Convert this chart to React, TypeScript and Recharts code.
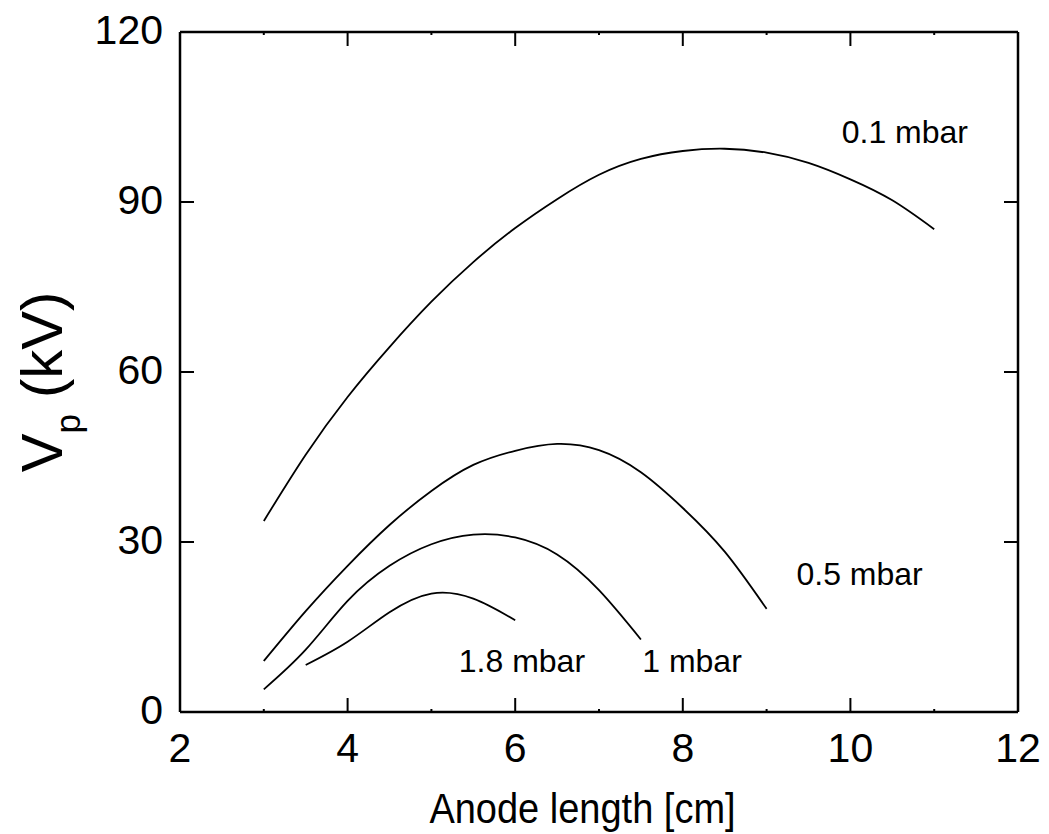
import React from 'react';
import {
    LineChart,
    Line,
    XAxis,
    YAxis,
    ReferenceDot,
    Customized
} from 'recharts';

// anode length [cm] and peak voltage [kV] per filling pressure
const x01 = [3, 3.5, 4, 4.5, 5, 5.5, 6, 6.5, 7, 7.5, 8, 8.5, 9, 9.5, 10, 10.5, 11];
const v01 = [33.7, 45.4, 55.6, 64.4, 72.4, 79.4, 85.4, 90.5, 94.8, 97.6, 99.0, 99.4, 98.7, 96.9, 94.0, 90.3, 85.2];

const x05 = [3, 3.5, 4, 4.5, 5, 5.5, 6, 6.5, 7, 7.5, 8, 8.5, 9];
const v05 = [9.0, 17.8, 25.8, 33.0, 39.0, 43.6, 46.1, 47.3, 46.2, 42.3, 36.0, 28.3, 18.2];

const x1 = [3, 3.5, 4, 4.5, 5, 5.5, 6, 6.5, 7, 7.5];
const v1 = [4.0, 11.0, 19.6, 25.8, 29.6, 31.3, 30.8, 27.8, 21.5, 12.8];

const x18 = [3.5, 4, 4.5, 5, 5.5, 6];
const v18 = [8.3, 12.4, 17.6, 20.9, 20.0, 16.2];

const xTicks = [2, 3, 4, 5, 6, 7, 8, 9, 10, 11, 12];
const yTicks = [0, 30, 60, 90, 120];

const curveLabels = [
    { text: '0.1 mbar', x: 10.65, y: 102.4 },
    { text: '0.5 mbar', x: 10.11, y: 24.35 },
    { text: '1.8 mbar', x: 6.08, y: 9.1 },
    { text: '1 mbar', x: 8.11, y: 9.1 }
];

const toPoints = (xs: number[], ys: number[]) => xs.map((x, i) => ({ x, y: ys[i] }));

const series = [
    { name: '0.1 mbar', data: toPoints(x01, v01) },
    { name: '0.5 mbar', data: toPoints(x05, v05) },
    { name: '1 mbar', data: toPoints(x1, v1) },
    { name: '1.8 mbar', data: toPoints(x18, v18) }
];

const FONT = '"Liberation Sans", Arial, Helvetica, sans-serif';

// ticks point inward, labels only on even values
const BottomTick = (props: any) => {
    const { x, y, payload } = props;
    const major = payload.value % 2 === 0;
    return (
        <g>
            <line x1={x} x2={x} y1={y} y2={y - (major ? 14 : 3)} stroke="#000" strokeWidth={2} />
            {major && (
                <text x={x} y={y + 50} textAnchor="middle" fontSize={41} fill="#000" fontFamily={FONT}>
                    {payload.value}
                </text>
            )}
        </g>
    );
};

const TopTick = (props: any) => {
    const { x, y, payload } = props;
    const major = payload.value % 2 === 0;
    return <line x1={x} x2={x} y1={y} y2={y + (major ? 14 : 3)} stroke="#000" strokeWidth={2} />;
};

const LeftTick = (props: any) => {
    const { x, y, payload } = props;
    return (
        <g>
            <line x1={x} x2={x + 14} y1={y} y2={y} stroke="#000" strokeWidth={2} />
            <text x={x - 17} y={y + 12} textAnchor="end" fontSize={41} fill="#000" fontFamily={FONT}>
                {payload.value}
            </text>
        </g>
    );
};

const RightTick = (props: any) => {
    const { x, y } = props;
    return <line x1={x} x2={x - 14} y1={y} y2={y} stroke="#000" strokeWidth={2} />;
};

const AxisTitles = () => (
    <g fontFamily={FONT} fill="#000">
        <text transform="translate(582.5, 823) scale(1, 1.14)" textAnchor="middle" fontSize={38}>
            Anode length [cm]
        </text>
        <text transform="translate(62, 382) rotate(-90)" textAnchor="middle" fontSize={58}>
            V
            <tspan fontSize={35} dy={18}>p</tspan>
            <tspan dy={-18}> (kV)</tspan>
        </text>
    </g>
);

const App: React.FC = () => {
    return (
        <div style={{ position: 'absolute', left: 0, top: 0, background: '#fff', fontFamily: FONT }}>
            <LineChart
                width={1049}
                height={834}
                margin={{ top: 31, right: 30, bottom: 62, left: 100 }}
            >
                <XAxis
                    type="number"
                    dataKey="x"
                    domain={[2, 12]}
                    ticks={xTicks}
                    interval={0}
                    allowDataOverflow
                    height={60}
                    tickSize={0}
                    tickMargin={0}
                    tickLine={false}
                    axisLine={{ stroke: '#000', strokeWidth: 2.5 }}
                    tick={<BottomTick />}
                />
                <XAxis
                    xAxisId="top"
                    orientation="top"
                    type="number"
                    dataKey="x"
                    domain={[2, 12]}
                    ticks={xTicks}
                    interval={0}
                    allowDataOverflow
                    height={1}
                    tickSize={0}
                    tickMargin={0}
                    tickLine={false}
                    axisLine={{ stroke: '#000', strokeWidth: 2.5 }}
                    tick={<TopTick />}
                />
                <YAxis
                    type="number"
                    domain={[0, 120]}
                    ticks={yTicks}
                    interval={0}
                    allowDataOverflow
                    width={80}
                    tickSize={0}
                    tickMargin={0}
                    tickLine={false}
                    axisLine={{ stroke: '#000', strokeWidth: 2.5 }}
                    tick={<LeftTick />}
                />
                <YAxis
                    yAxisId="right"
                    orientation="right"
                    type="number"
                    domain={[0, 120]}
                    ticks={yTicks}
                    interval={0}
                    allowDataOverflow
                    width={1}
                    tickSize={0}
                    tickMargin={0}
                    tickLine={false}
                    axisLine={{ stroke: '#000', strokeWidth: 2.5 }}
                    tick={<RightTick />}
                />
                {series.map((s) => (
                    <Line
                        key={s.name}
                        data={s.data}
                        dataKey="y"
                        name={s.name}
                        type="natural"
                        stroke="#000"
                        strokeWidth={1.8}
                        dot={false}
                        activeDot={false}
                        isAnimationActive={false}
                    />
                ))}
                {/* invisible copy so the mirrored top/right axes are bound to a series */}
                <Line
                    xAxisId="top"
                    yAxisId="right"
                    data={series[0].data}
                    dataKey="y"
                    stroke="none"
                    dot={false}
                    activeDot={false}
                    legendType="none"
                    isAnimationActive={false}
                />
                {curveLabels.map((l) => (
                    <ReferenceDot
                        key={l.text}
                        x={l.x}
                        y={l.y}
                        r={0}
                        fill="none"
                        stroke="none"
                        label={{ value: l.text, position: 'center', fontSize: 32, fill: '#000', fontFamily: FONT }}
                    />
                ))}
                <Customized component={AxisTitles} />
            </LineChart>
        </div>
    );
};

export default App;
